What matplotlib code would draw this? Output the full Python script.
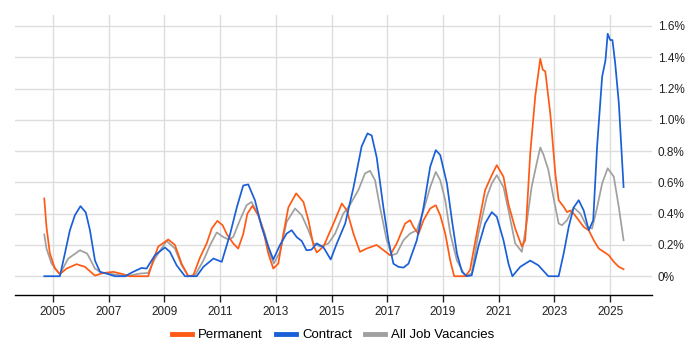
import matplotlib
matplotlib.use("Agg")
import matplotlib.pyplot as plt
from matplotlib.ticker import FuncFormatter, MultipleLocator

plt.rcParams['font.family'] = ['Liberation Sans', 'DejaVu Sans']

perm_x = [2004.69, 2004.77, 2004.89, 2005.07, 2005.25, 2005.49, 2005.85, 2006.15, 2006.51, 2006.81,
          2007.17, 2007.52, 2007.76, 2008.42, 2008.6, 2008.78, 2009.14, 2009.38, 2009.62, 2009.86,
          2010.04, 2010.28, 2010.52, 2010.70, 2010.9, 2011.09, 2011.24, 2011.47, 2011.65, 2011.83,
          2011.98, 2012.16, 2012.37, 2012.55, 2012.73, 2012.91, 2013.09, 2013.27, 2013.45, 2013.73,
          2013.99, 2014.17, 2014.35, 2014.47, 2014.71, 2015.07, 2015.37, 2015.55, 2015.79, 2016.02,
          2016.26, 2016.62, 2017.1, 2017.34, 2017.64, 2017.82, 2017.94, 2018.12, 2018.3, 2018.54,
          2018.74, 2018.9, 2019.08, 2019.26, 2019.4, 2019.8, 2019.97, 2020.21, 2020.51, 2020.75,
          2020.93, 2021.17, 2021.35, 2021.59, 2021.83, 2021.95, 2022.13, 2022.31, 2022.49, 2022.58,
          2022.67, 2022.85, 2023.03, 2023.15, 2023.33, 2023.45, 2023.57, 2023.69, 2023.87, 2024.05,
          2024.23, 2024.41, 2024.59, 2024.77, 2024.95, 2025.13, 2025.31, 2025.48]
perm_y = [0.497, 0.315, 0.147, 0.05, 0.013, 0.049, 0.077, 0.06, 0.004, 0.021,
          0.028, 0.013, 0.0, 0.0, 0.10, 0.19, 0.235, 0.2, 0.08, 0.0,
          0.006, 0.12, 0.21, 0.305, 0.354, 0.326, 0.27, 0.21, 0.177, 0.27,
          0.40, 0.45, 0.39, 0.294, 0.145, 0.049, 0.081, 0.27, 0.44, 0.53,
          0.475, 0.358, 0.198, 0.152, 0.19, 0.337, 0.465, 0.42, 0.27, 0.156,
          0.177, 0.20, 0.134, 0.21, 0.337, 0.358, 0.315, 0.27, 0.358, 0.433,
          0.454, 0.39, 0.273, 0.10, 0.0, 0.0, 0.04, 0.273, 0.55, 0.646,
          0.71, 0.636, 0.46, 0.305, 0.19, 0.23, 0.785, 1.15, 1.39, 1.32,
          1.31, 1.04, 0.657, 0.486, 0.444, 0.41, 0.42, 0.40, 0.358, 0.315,
          0.294, 0.23, 0.177, 0.156, 0.134, 0.092, 0.06, 0.045]

cont_x = [2004.69, 2005.25, 2005.43, 2005.61, 2005.79, 2005.99, 2006.18, 2006.33, 2006.51, 2006.69,
          2006.93, 2007.23, 2007.59, 2007.88, 2008.18, 2008.36, 2008.66, 2009.02, 2009.2, 2009.44,
          2009.74, 2010.16, 2010.4, 2010.76, 2011.06, 2011.36, 2011.6, 2011.83, 2012.01, 2012.25,
          2012.49, 2012.73, 2012.91, 2013.15, 2013.39, 2013.57, 2013.75, 2013.93, 2014.1, 2014.28,
          2014.47, 2014.71, 2014.97, 2015.19, 2015.49, 2015.79, 2016.08, 2016.29, 2016.44, 2016.62,
          2016.86, 2017.04, 2017.22, 2017.4, 2017.58, 2017.76, 2018.06, 2018.3, 2018.54, 2018.74,
          2018.9, 2019.14, 2019.32, 2019.5, 2019.68, 2019.86, 2020.03, 2020.27, 2020.51, 2020.75,
          2020.93, 2021.17, 2021.35, 2021.49, 2021.77, 2022.13, 2022.42, 2022.78, 2023.15, 2023.33,
          2023.51, 2023.69, 2023.87, 2024.05, 2024.23, 2024.39, 2024.53, 2024.71, 2024.83, 2024.91,
          2025.0, 2025.08, 2025.18, 2025.31, 2025.48]
cont_y = [0.0, 0.0, 0.145, 0.294, 0.39, 0.448, 0.408, 0.294, 0.10, 0.028,
          0.017, 0.0, 0.0, 0.028, 0.053, 0.049, 0.134, 0.184, 0.156, 0.07,
          0.0, 0.0, 0.06, 0.113, 0.092, 0.27, 0.44, 0.58, 0.587, 0.486,
          0.315, 0.19, 0.107, 0.20, 0.273, 0.294, 0.25, 0.225, 0.166, 0.17,
          0.21, 0.185, 0.107, 0.21, 0.337, 0.57, 0.83, 0.913, 0.90, 0.76,
          0.44, 0.23, 0.08, 0.06, 0.055, 0.08, 0.23, 0.44, 0.70, 0.806,
          0.775, 0.593, 0.358, 0.145, 0.028, 0.0, 0.006, 0.19, 0.337, 0.41,
          0.38, 0.23, 0.08, 0.0, 0.06, 0.10, 0.07, 0.0, 0.0, 0.145,
          0.315, 0.44, 0.486, 0.42, 0.294, 0.358, 0.83, 1.275, 1.38, 1.55,
          1.51, 1.51, 1.36, 1.105, 0.57]

all_x = [2004.69, 2004.77, 2004.95, 2005.25, 2005.55, 2005.97, 2006.23, 2006.51, 2006.75, 2007.17,
         2007.65, 2008.12, 2008.42, 2008.66, 2009.08, 2009.38, 2009.62, 2009.86, 2010.1, 2010.4,
         2010.64, 2010.88, 2011.12, 2011.3, 2011.47, 2011.71, 2011.95, 2012.13, 2012.37, 2012.61,
         2012.79, 2012.93, 2013.15, 2013.39, 2013.69, 2013.93, 2014.17, 2014.35, 2014.59, 2014.89,
         2015.13, 2015.42, 2015.64, 2015.96, 2016.2, 2016.38, 2016.56, 2016.74, 2016.98, 2017.16,
         2017.34, 2017.58, 2017.82, 2018.06, 2018.3, 2018.54, 2018.74, 2018.9, 2019.08, 2019.26,
         2019.5, 2019.8, 2020.03, 2020.27, 2020.57, 2020.75, 2020.93, 2021.17, 2021.35, 2021.59,
         2021.83, 2022.0, 2022.18, 2022.36, 2022.49, 2022.61, 2022.78, 2022.96, 2023.15, 2023.27,
         2023.45, 2023.69, 2023.93, 2024.17, 2024.35, 2024.53, 2024.71, 2024.91, 2025.13, 2025.31,
         2025.48]
all_y = [0.267, 0.177, 0.081, 0.013, 0.113, 0.166, 0.145, 0.049, 0.021, 0.013,
         0.0, 0.017, 0.021, 0.113, 0.226, 0.177, 0.07, 0.0, 0.006, 0.10,
         0.198, 0.28, 0.25, 0.235, 0.25, 0.358, 0.454, 0.475, 0.39, 0.27,
         0.145, 0.081, 0.156, 0.348, 0.433, 0.39, 0.294, 0.21, 0.19, 0.21,
         0.273, 0.40, 0.45, 0.55, 0.657, 0.674, 0.614, 0.44, 0.23, 0.134,
         0.145, 0.23, 0.273, 0.294, 0.42, 0.57, 0.667, 0.614, 0.486, 0.273,
         0.10, 0.0, 0.017, 0.273, 0.507, 0.593, 0.646, 0.57, 0.42, 0.21,
         0.156, 0.337, 0.57, 0.72, 0.823, 0.775, 0.68, 0.507, 0.337, 0.326,
         0.358, 0.44, 0.40, 0.315, 0.305, 0.44, 0.593, 0.69, 0.636, 0.44,
         0.23]

year_ticks = [2005, 2007, 2009, 2011, 2013, 2015, 2017, 2019, 2021, 2023, 2025]

c_perm = '#FF5A14'
c_cont = '#1A5FD8'
c_all = '#A0A0A0'

fig = plt.figure(figsize=(7, 3.5), dpi=100)
ax = fig.add_axes([15/700, 1-295/350, (652-15)/700, (295-15)/350])

ax.plot(all_x, all_y, color=c_all, lw=1.25, label='All Job Vacancies', zorder=2,
        solid_joinstyle='round')
ax.plot(perm_x, perm_y, color=c_perm, lw=1.25, label='Permanent', zorder=3,
        solid_joinstyle='round')
ax.plot(cont_x, cont_y, color=c_cont, lw=1.25, label='Contract', zorder=4,
        solid_joinstyle='round')

ax.set_xlim(2003.64, 2026.5)
ax.set_ylim(-0.12, 1.67)
ax.set_xticks(year_ticks)
ax.set_xticklabels([str(y) for y in year_ticks])
ax.yaxis.set_major_locator(MultipleLocator(0.2))
ax.yaxis.set_major_formatter(FuncFormatter(lambda v, p: '0%' if abs(v) < 1e-9 else f'{v:.1f}%'))
ax.yaxis.tick_right()
ax.tick_params(axis='y', length=0, pad=4, labelsize=8.5, colors='#222222')
ax.tick_params(axis='x', length=5, width=1, pad=3, labelsize=8.5, colors='#222222')
ax.grid(True, color='#dddddd', lw=1)
ax.set_axisbelow(True)
for s in ['top', 'left', 'right']:
    ax.spines[s].set_visible(False)
ax.spines['bottom'].set_color('#000000')
ax.spines['bottom'].set_linewidth(1)

handles, labels = ax.get_legend_handles_labels()
order = [1, 2, 0]
leg = fig.legend([handles[i] for i in order], [labels[i] for i in order],
                 loc='center', bbox_to_anchor=(0.476, 1-335/350), ncol=3, frameon=False,
                 fontsize=9.5, handlelength=1.5, handletextpad=0.45, columnspacing=1.0)
for line in leg.get_lines():
    line.set_linewidth(3.5)

fig.savefig('out.png', dpi=100)
